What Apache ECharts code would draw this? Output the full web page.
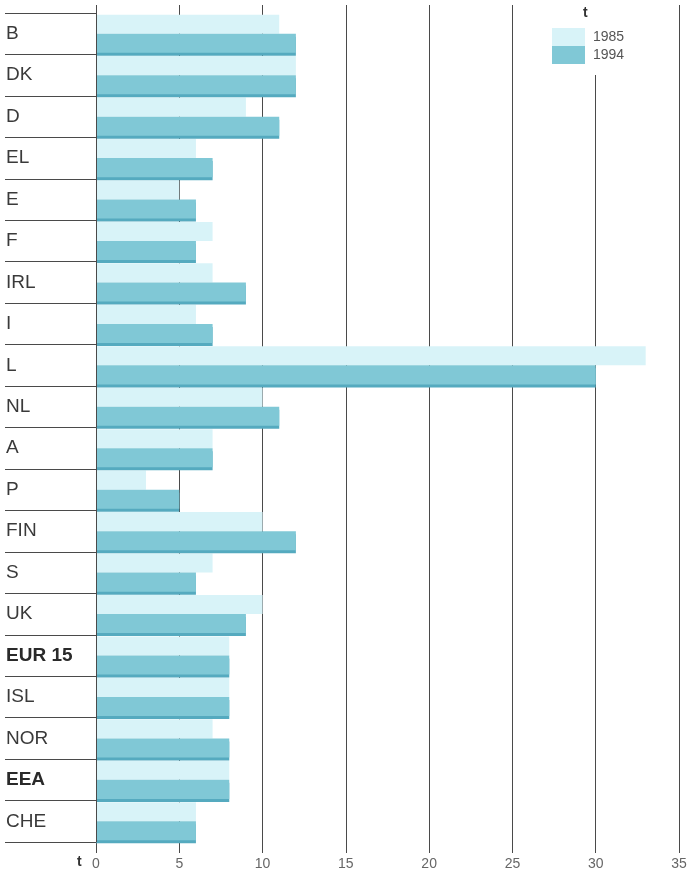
<!DOCTYPE html>
<html>
<head>
<meta charset="utf-8">
<script src="https://cdn.jsdelivr.net/npm/echarts@6/dist/echarts.min.js"></script>
<style>
  html, body { margin: 0; padding: 0; background: #fff; }
  #chart { width: 695px; height: 871px; }
</style>
</head>
<body>
<div id="chart"></div>
<script>
// countries, top to bottom
const countries = ['B', 'DK', 'D', 'EL', 'E', 'F', 'IRL', 'I', 'L', 'NL', 'A', 'P', 'FIN', 'S', 'UK', 'EUR 15', 'ISL', 'NOR', 'EEA', 'CHE']
const boldRows = ['EUR 15', 'EEA']
const years = ['1985', '1994']
const values1985 = [11, 12, 9, 6, 5, 7, 7, 6, 33, 10, 7, 3, 10, 7, 10, 8, 8, 7, 8, 6]
const values1994 = [12, 12, 11, 7, 6, 6, 9, 7, 30, 11, 7, 5, 12, 6, 9, 8, 8, 8, 8, 6]
const tickStep = 5
const axisMax = 35

const chart = echarts.init(document.getElementById('chart'))

const lineColor = '#4a4a4a'
const font = '"Liberation Sans", Arial, sans-serif'

chart.setOption({
  animation: false,
  backgroundColor: '#fff',
  // grid 0 only carries the long gridlines + tick labels, grid 1 holds the bars
  grid: [
    { left: 96, right: 16, top: 5, bottom: 18 },
    { left: 96, right: 16, top: 13, bottom: 29 },
  ],
  legend: {
    data: years,
    orient: 'vertical',
    left: 546,
    top: 0,
    padding: [28, 10, 11, 6],
    backgroundColor: '#fff',
    itemGap: 0,
    itemWidth: 33,
    itemHeight: 18,
    icon: 'rect',
    selectedMode: false,
    textStyle: { color: '#555', fontSize: 14, fontFamily: font, padding: [0, 0, 0, 3] },
    zlevel: 2,
  },
  xAxis: [
    {
      gridIndex: 0,
      type: 'value',
      min: 0,
      max: axisMax,
      interval: tickStep,
      zlevel: 0,
      axisLine: { show: false },
      axisTick: { show: false },
      axisLabel: { color: '#666', fontSize: 14, fontFamily: font, margin: 4 },
      splitLine: { show: true, lineStyle: { color: lineColor, width: 1 } },
    },
    {
      gridIndex: 1,
      type: 'value',
      min: 0,
      max: axisMax,
      show: false,
    },
  ],
  yAxis: [
    { gridIndex: 0, type: 'value', show: false },
    {
      gridIndex: 1,
      type: 'category',
      data: countries,
      inverse: true,
      zlevel: 2,
      axisLine: { show: true, lineStyle: { color: lineColor, width: 1 } },
      axisTick: { show: true, interval: 0, length: 91, lineStyle: { color: lineColor, width: 1 } },
      axisLabel: {
        margin: 90,
        align: 'left',
        interval: 0,
        formatter: v => (boldRows.includes(v) ? '{b|' + v + '}' : '{n|' + v + '}'),
        rich: {
          n: { color: '#3a3a3a', fontSize: 19, fontFamily: font },
          b: { color: '#2a2a2a', fontSize: 19, fontWeight: 'bold', fontFamily: font },
        },
      },
      splitLine: { show: false },
    },
  ],
  series: [
    {
      name: '1985',
      type: 'bar',
      xAxisIndex: 1,
      yAxisIndex: 1,
      data: values1985,
      barGap: '0%',
      barCategoryGap: '8%',
      itemStyle: { color: '#d8f3f8' },
      zlevel: 1,
    },
    {
      name: '1994',
      type: 'bar',
      xAxisIndex: 1,
      yAxisIndex: 1,
      data: values1994,
      barGap: '0%',
      barCategoryGap: '8%',
      itemStyle: {
        color: '#80c8d6',
        shadowColor: '#55aabf',
        shadowOffsetY: 3,
        shadowOffsetX: 0,
        shadowBlur: 0,
      },
      zlevel: 1,
    },
  ],
  graphic: [
    {
      type: 'text',
      left: 583,
      top: 6,
      zlevel: 3,
      style: { text: 't', fill: '#333', font: 'bold 14px ' + font },
    },
    {
      type: 'text',
      left: 77,
      top: 855,
      zlevel: 3,
      style: { text: 't', fill: '#333', font: 'bold 14px ' + font },
    },
  ],
})
</script>
</body>
</html>
